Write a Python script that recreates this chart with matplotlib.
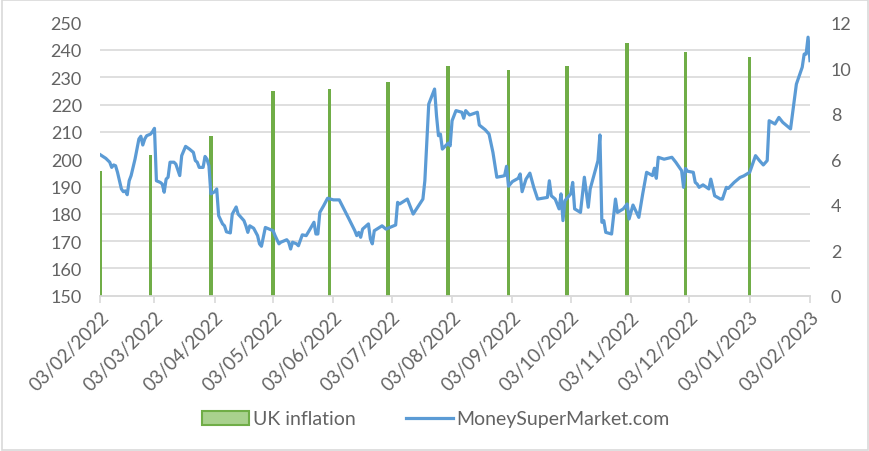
import numpy as np
import pandas as pd
import matplotlib
matplotlib.use("Agg")
import matplotlib.pyplot as plt
import matplotlib.dates as mdates
from matplotlib.patches import Patch, Rectangle
from matplotlib.lines import Line2D

plt.rcParams['font.family'] = ['Lato', 'DejaVu Sans']

# ---------------- data ----------------
start_date = "2022-02-03"
end_date = "2023-02-03"

inflation_dates = ["2022-02-03", "2022-03-01", "2022-04-01", "2022-05-03",
                   "2022-06-01", "2022-07-01", "2022-08-01", "2022-09-01",
                   "2022-10-01", "2022-11-01", "2022-12-01", "2023-01-03"]
inflation_values = [5.5, 6.2, 7.0, 9.0, 9.1, 9.4, 10.1, 9.9, 10.1, 11.1, 10.7, 10.5]

tick_labels_dates = ["2022-02-03", "2022-03-03", "2022-04-03", "2022-05-03",
                     "2022-06-03", "2022-07-03", "2022-08-03", "2022-09-03",
                     "2022-10-03", "2022-11-03", "2022-12-03", "2023-01-03",
                     "2023-02-03"]

# MoneySuperMarket.com series: day offset from start_date, value
msm_days = [0, 3, 5, 6, 7, 8, 9, 10, 11, 12, 13, 14, 15, 16, 18, 20, 21, 22, 23, 24,
            26, 27, 28, 29, 31, 32, 33, 34, 35, 36, 38, 39, 41, 42, 44, 46, 48, 49, 50, 51,
            53, 54, 55, 56, 57, 59, 60, 61, 63, 64, 65, 67, 68, 70, 71, 74, 75, 76, 77, 79,
            81, 82, 83, 85, 87, 89, 90, 92, 93, 96, 97, 98, 99, 101, 102, 104, 106, 108, 110, 111,
            112, 113, 115, 117, 120, 123, 128, 131, 132, 133, 134, 135, 138, 139, 140, 141, 145, 147, 152, 153,
            154, 158, 161, 166, 167, 169, 172, 173, 174, 175, 176, 179, 180, 181, 183, 186, 187, 188, 190, 194,
            195, 198, 200, 202, 204, 207, 208, 209, 210, 212, 215, 216, 217, 219, 221, 223, 225, 230, 231, 232,
            234, 235, 236, 237, 238, 239, 242, 243, 244, 247, 249, 251, 252, 256, 257, 258, 259, 260, 263, 265,
            266, 269, 271, 272, 274, 277, 279, 281, 284, 285, 286, 287, 290, 294, 296, 299, 300, 301, 302, 305,
            306, 307, 308, 310, 313, 314, 316, 319, 320, 322, 323, 326, 329, 331, 334, 337, 339, 341, 343, 344,
            347, 349, 351, 355, 356, 358, 361, 362, 363, 364, 365]
msm_values = [201.7, 200.3, 198.9, 197.0, 197.9, 197.6, 195.2, 192.1, 189.1, 188.1, 188.4, 187.0, 192.1, 194.0, 200.0, 207.4, 208.4, 205.2, 207.4, 208.6,
              209.2, 210.1, 211.3, 192.1, 191.5, 190.9, 187.9, 192.7, 193.4, 198.9, 198.9, 198.2, 194.0, 201.3, 204.7, 203.7, 202.5, 199.5, 198.9, 197.0,
              197.0, 201.0, 200.0, 197.6, 187.3, 188.1, 189.1, 179.3, 176.3, 175.6, 173.4, 173.0, 179.9, 182.5, 179.9, 177.5, 175.6, 173.2, 175.6, 174.7,
              172.0, 169.0, 168.1, 175.0, 174.4, 173.8, 172.0, 169.0, 169.6, 170.5, 169.6, 167.1, 169.6, 169.0, 168.3, 172.3, 172.0, 174.4, 176.9, 172.6,
              172.6, 180.5, 183.0, 185.7, 185.1, 185.1, 178.1, 173.8, 172.0, 173.2, 171.4, 174.4, 176.3, 170.8, 169.0, 173.8, 175.6, 174.4, 175.9, 184.2,
              183.6, 185.4, 179.9, 185.4, 192.1, 220.2, 225.7, 215.9, 208.6, 209.2, 203.7, 205.9, 204.9, 214.1, 217.8, 217.2, 215.0, 217.8, 216.2, 217.2,
              212.5, 210.8, 209.2, 202.5, 193.4, 193.8, 194.0, 197.4, 190.1, 191.8, 193.0, 194.6, 188.1, 192.7, 194.9, 189.7, 185.4, 186.0, 192.1, 186.6,
              185.4, 183.6, 181.8, 187.3, 177.5, 184.8, 187.3, 191.5, 181.8, 180.5, 193.4, 182.4, 189.1, 199.5, 208.9, 176.9, 177.5, 173.2, 172.6, 185.4,
              180.5, 181.8, 183.6, 178.1, 183.2, 178.7, 187.3, 195.2, 194.0, 196.7, 193.0, 200.7, 200.0, 200.7, 198.9, 195.8, 189.7, 196.6, 195.6, 195.2,
              191.5, 190.9, 189.7, 190.6, 189.1, 192.7, 186.6, 185.4, 185.4, 189.7, 189.3, 191.5, 193.3, 193.9, 195.2, 201.3, 199.5, 197.9, 199.5, 214.1,
              212.9, 215.3, 213.5, 211.1, 216.6, 227.5, 233.7, 238.5, 238.5, 244.7, 236.1]

series_labels = ["UK inflation", "MoneySuperMarket.com"]

# ---------------- styling ----------------
GREEN = "#70AD47"
BLUE = "#5B9BD5"
GRID = "#D9D9D9"
TEXT = "#636363"

start = pd.Timestamp(start_date)
msm_dates = start + pd.to_timedelta(msm_days, unit="D")
bar_dates = pd.to_datetime(inflation_dates)
tick_dates = pd.to_datetime(tick_labels_dates)

fig = plt.figure(figsize=(8.70, 4.52), dpi=100)
fig.patches.append(Rectangle((0.002, 0.003), 0.996, 0.994, transform=fig.transFigure,
                             fill=False, edgecolor=GRID, linewidth=1.2))

ax2 = fig.add_axes([100 / 870, 1 - 296.7 / 452, 710 / 870, (296.7 - 23.7) / 452])
ax = ax2.twinx()
# ax : left scale with line ; ax2 : right scale with bars (drawn beneath)
ax.yaxis.set_label_position("left")
ax.yaxis.tick_left()
ax2.yaxis.set_label_position("right")
ax2.yaxis.tick_right()

ax2.bar(bar_dates, inflation_values, width=1.8, color=GREEN, zorder=3)
ax2.set_ylim(0, 12)
ax2.set_yticks(np.arange(0, 13, 2))
ax2.set_yticks(np.linspace(0, 12, 11), minor=True)
ax2.grid(axis="y", which="minor", color=GRID, linewidth=1.2, zorder=0)
ax2.tick_params(axis="y", which="minor", length=0)
ax2.tick_params(axis="y", which="major", length=0, pad=15, labelsize=13, labelcolor=TEXT)

ax.plot(msm_dates, msm_values, color=BLUE, linewidth=2.3, zorder=4,
        solid_joinstyle="round")
ax.set_ylim(150, 250)
ax.set_yticks(np.arange(150, 251, 10))
ax.tick_params(axis="y", length=0, pad=13, labelsize=13, labelcolor=TEXT)

ax.set_zorder(ax2.get_zorder() + 1)
ax.patch.set_visible(False)

x0 = mdates.date2num(pd.Timestamp(start_date))
x1 = mdates.date2num(pd.Timestamp(end_date))
ax2.set_xlim(x0, x1)
ax2.set_xticks(tick_dates)
ax2.xaxis.set_major_formatter(mdates.DateFormatter("%d/%m/%Y"))
ax2.tick_params(axis="x", length=5, width=1.2, color=GRID, pad=4, labelsize=13.5,
                labelcolor=TEXT)
for lbl in ax2.get_xticklabels():
    lbl.set_rotation(45)
    lbl.set_ha("right")
    lbl.set_rotation_mode("anchor")

for a in (ax, ax2):
    for s in ("top", "left", "right"):
        a.spines[s].set_visible(False)
    a.spines["bottom"].set_color(GRID)
    a.spines["bottom"].set_linewidth(1.2)

handles = [Patch(facecolor="#A9D18E", edgecolor=GREEN, linewidth=1.5),
           Line2D([0], [0], color=BLUE, linewidth=2.3)]
fig.legend(handles, series_labels, loc="center", bbox_to_anchor=(436 / 870, 1 - 420 / 452),
           ncol=2, frameon=False, fontsize=14, labelcolor=TEXT, handlelength=2.4,
           handletextpad=0.2, columnspacing=2.6)

fig.savefig("out.png", dpi=100)
